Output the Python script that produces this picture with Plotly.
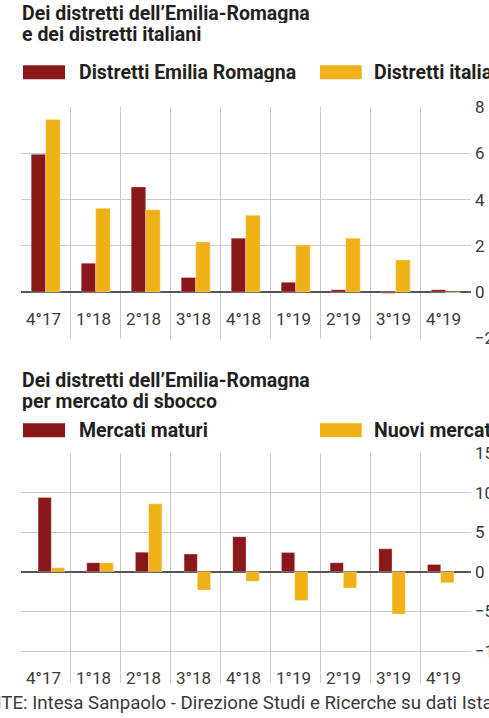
import plotly.graph_objects as go

# ---------------- data ----------------
quarters = ["4°17", "1°18", "2°18", "3°18", "4°18", "1°19", "2°19", "3°19", "4°19"]
distretti_emilia = [5.96, 1.25, 4.55, 0.63, 2.33, 0.42, 0.10, -0.05, 0.10]
distretti_italiani = [7.47, 3.63, 3.56, 2.17, 3.32, 2.03, 2.33, 1.39, -0.03]
mercati_maturi = [9.38, 1.14, 2.48, 2.23, 4.42, 2.44, 1.14, 2.90, 0.93]
nuovi_mercati = [0.50, 1.14, 8.58, -2.31, -1.18, -3.62, -2.06, -5.34, -1.39]
top_ticks = [-2, 0, 2, 4, 6, 8]
bottom_ticks = [-10, -5, 0, 5, 10, 15]

# ---------------- style ----------------
W, H = 489, 718
RED = "#8a1719"
YEL = "#f0b118"
GRID = "#c9c9c9"
ZERO = "#555555"
TXT = "#231f20"
LAB = "#3a3a3a"
FONT = "Roboto, Arial, sans-serif"

def px(v):
    return v / W

def py(v):
    return 1 - v / H

idx = list(range(len(quarters)))
seps = [i + 0.5 for i in idx[:-1]]
edge = dict(color="rgba(255,255,255,0.3)", width=1)

fig = go.Figure()

# top chart bars
fig.add_trace(go.Bar(x=idx, y=distretti_emilia, xaxis="x", yaxis="y", marker_color=RED,
                     marker_line=edge, width=0.29, offset=-0.29,
                     name="Distretti Emilia Romagna", showlegend=False))
fig.add_trace(go.Bar(x=idx, y=distretti_italiani, xaxis="x", yaxis="y", marker_color=YEL,
                     marker_line=edge, width=0.29, offset=0,
                     name="Distretti italiani", showlegend=False))

# bottom chart grid holder
fig.add_trace(go.Scatter(x=idx, y=[None] * len(idx), xaxis="x2", yaxis="y2",
                         mode="markers", showlegend=False, hoverinfo="skip"))
# bottom chart bars
fig.add_trace(go.Bar(x=idx, y=mercati_maturi, xaxis="x3", yaxis="y2", marker_color=RED,
                     marker_line=edge, width=0.272, offset=-0.272,
                     name="Mercati maturi", showlegend=False))
fig.add_trace(go.Bar(x=idx, y=nuovi_mercati, xaxis="x3", yaxis="y2", marker_color=YEL,
                     marker_line=edge, width=0.272, offset=0,
                     name="Nuovi mercati", showlegend=False))

xdom = [px(20.7), px(470.7)]
top_dom = [py(338.7), py(106.7)]
bot_dom = [py(682.7), py(452.7)]
label_pos = px(475.9)

common_x = dict(showgrid=True, gridcolor=GRID, gridwidth=1, zeroline=False, showline=False,
                ticks="", showticklabels=False, tickmode="array", tickvals=seps,
                automargin=False, fixedrange=True)
common_y = dict(side="right", showgrid=True, gridcolor=GRID, gridwidth=1, zeroline=True,
                zerolinecolor=ZERO, zerolinewidth=1.5, showline=False, ticks="",
                tickfont=dict(family=FONT, size=17, color=LAB), tickmode="array",
                automargin=False, ticklabelstandoff=-2, fixedrange=True,
                anchor="free", position=label_pos)

fig.update_layout(
    width=W, height=H, template="none",
    paper_bgcolor="white", plot_bgcolor="rgba(0,0,0,0)",
    margin=dict(l=0, r=0, t=0, b=0),
    barmode="overlay", showlegend=False,
    xaxis=dict(domain=xdom, range=[-0.5, 8.5], anchor="y", **common_x),
    yaxis=dict(domain=top_dom, range=[-2.02, 8.02], tickvals=top_ticks, **common_y),
    xaxis2=dict(domain=xdom, range=[-0.5, 8.5], anchor="y2", **common_x),
    yaxis2=dict(domain=bot_dom, range=[-14, 15.03], tickvals=bottom_ticks, **common_y),
    xaxis3=dict(domain=xdom, range=[-0.6286, 8.616], anchor="y2", overlaying="x2",
                visible=False, fixedrange=True),
)

ann = []

def text(x, y, t, size, color=TXT, bold=False, anchor="left", h=20):
    ann.append(dict(xref="paper", yref="paper", x=px(x), y=py(y),
                    text=("<b>%s</b>" % t) if bold else t,
                    showarrow=False, xanchor=anchor, yanchor="middle", borderpad=0,
                    height=h, valign="middle",
                    font=dict(family=FONT, size=size, color=color)))

# titles
text(20.7, 12.7, "Dei distretti dell’Emilia-Romagna", 19.5, bold=True)
text(20.7, 34.0, "e dei distretti italiani", 19.5, bold=True)
text(20.7, 380.3, "Dei distretti dell’Emilia-Romagna", 19.5, bold=True)
text(20.7, 400.5, "per mercato di sbocco", 19.5, bold=True)

# legends
shapes = []
def swatch(x0, x1, yc, color):
    shapes.append(dict(type="rect", xref="paper", yref="paper", x0=px(x0), x1=px(x1),
                       y0=py(yc + 7), y1=py(yc - 7), fillcolor=color, line=dict(width=0)))

swatch(23, 65, 72.2, RED)
text(77.7, 72.2, "Distretti Emilia Romagna", 19.5, bold=True)
swatch(320, 361.7, 72.2, YEL)
text(373.3, 72.2, "Distretti italiani", 19.5, bold=True)

swatch(23, 65, 430.3, RED)
text(77.7, 430.3, "Mercati maturi", 19.5, bold=True)
swatch(320, 361.7, 430.3, YEL)
text(373.3, 430.3, "Nuovi mercati", 19.5, bold=True)

# category labels
for i, q in enumerate(quarters):
    ann.append(dict(xref="x", yref="y", x=i, y=-1.15, text=q, showarrow=False, xshift=-2,
                    xanchor="center", yanchor="middle", font=dict(family=FONT, size=17, color=LAB)))
    ann.append(dict(xref="x2", yref="y2", x=i, y=-13.38, text=q, showarrow=False, xshift=-2,
                    xanchor="center", yanchor="middle", font=dict(family=FONT, size=17, color=LAB)))

# source
text(-36.5, 703, "FONTE: Intesa Sanpaolo - Direzione Studi e Ricerche su dati Istat", 18.7, color=LAB)

fig.update_layout(annotations=ann, shapes=shapes)
fig.write_html("out.html", config={"displayModeBar": False},
               post_script="document.body.style.margin='0px';")
